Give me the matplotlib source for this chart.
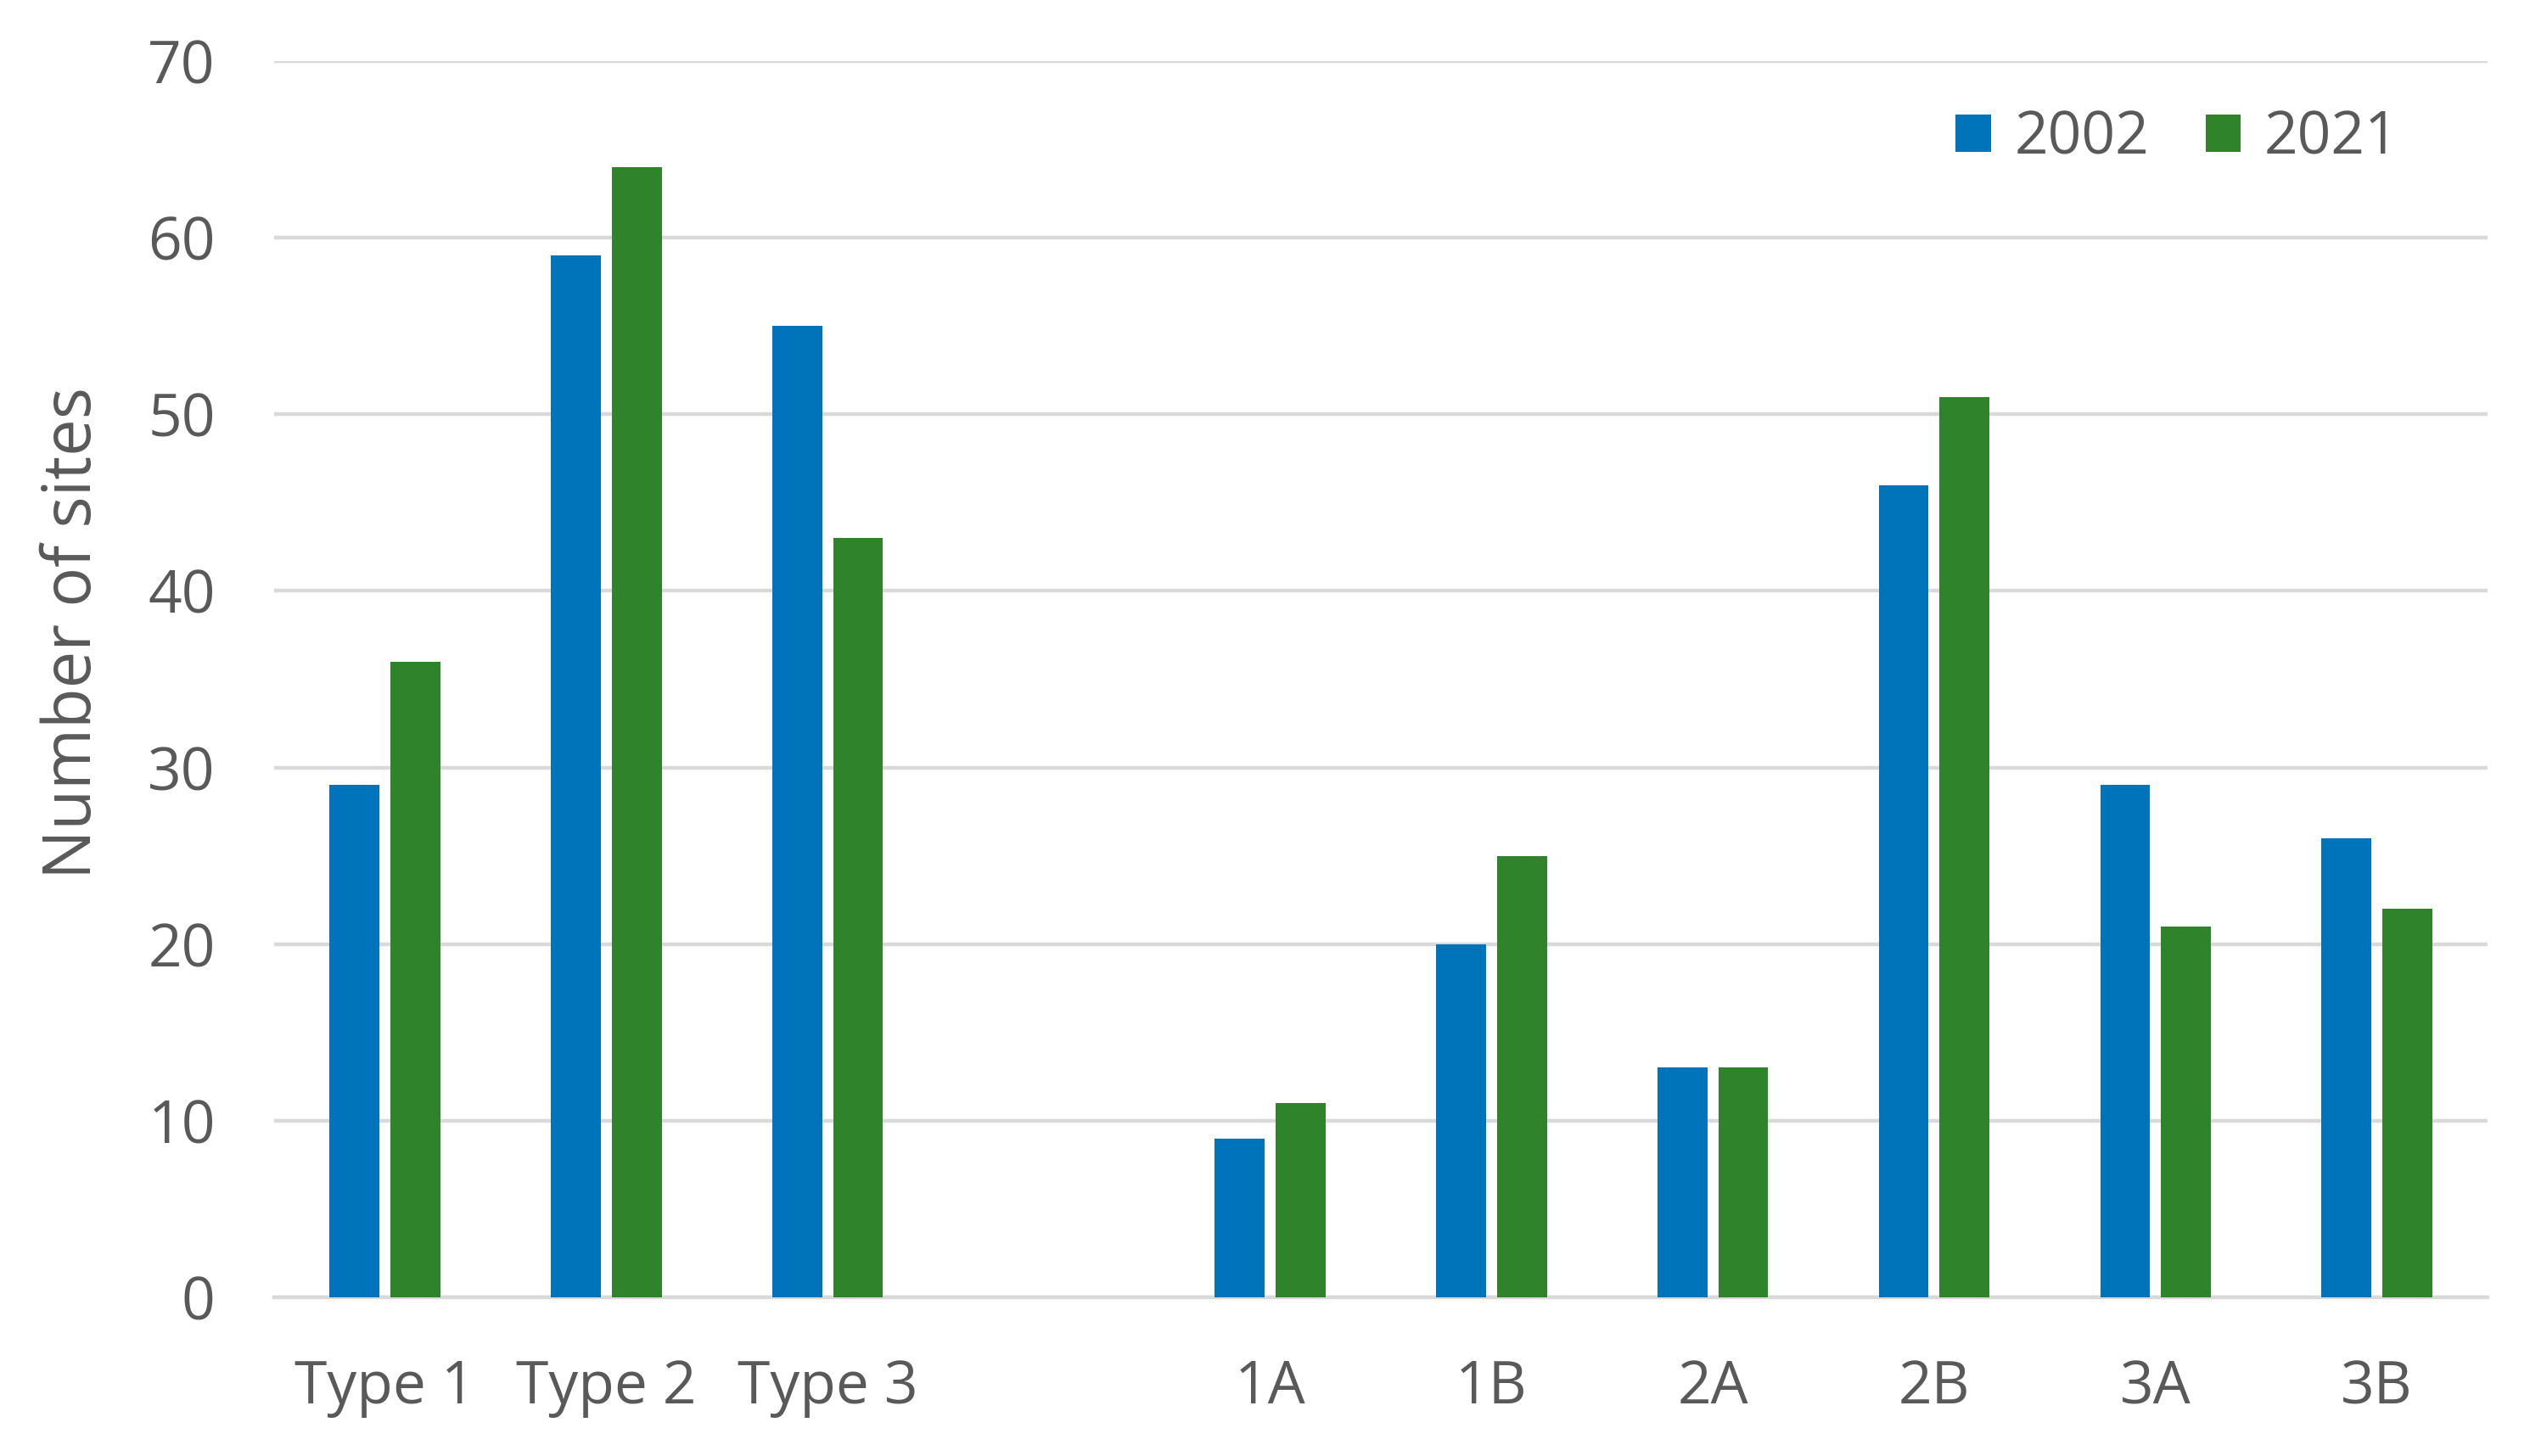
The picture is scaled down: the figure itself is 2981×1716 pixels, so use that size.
import matplotlib
matplotlib.use("Agg")
import matplotlib.pyplot as plt
import numpy as np

categories = ["Type 1", "Type 2", "Type 3", "", "1A", "1B", "2A", "2B", "3A", "3B"]
series_names = ["2002", "2021"]
values_2002 = [29, 59, 55, np.nan, 9, 20, 13, 46, 29, 26]
values_2021 = [36, 64, 43, np.nan, 11, 25, 13, 51, 21, 22]
y_ticks = [0, 10, 20, 30, 40, 50, 60, 70]

plt.rcParams['font.family'] = ['Open Sans', 'DejaVu Sans']
TXT = '#595959'
GRID = '#D9D9D9'
C_BLUE = '#0074BA'
C_GREEN = '#2F832A'

fig = plt.figure(figsize=(29.81, 17.16), dpi=100)
ax = fig.add_axes([0.1084, 0.109, 0.8748, 0.849])

x = np.arange(len(categories))
w = 0.225
off = 0.1375
ax.bar(x - off, values_2002, width=w, color=C_BLUE, label=series_names[0], zorder=3)
ax.bar(x + off, values_2021, width=w, color=C_GREEN, label=series_names[1], zorder=3)

ax.set_xlim(-0.5, len(categories) - 0.5)
ax.set_ylim(0, 70)
ax.set_yticks(y_ticks)
ax.set_xticks(x)
ax.set_xticklabels(categories)
ax.yaxis.grid(True, color=GRID, linewidth=3.2, zorder=0)
ax.set_axisbelow(True)
for s in ['top', 'right', 'left']:
    ax.spines[s].set_visible(False)
ax.spines['bottom'].set_color(GRID)
ax.spines['bottom'].set_linewidth(3.2)
ax.tick_params(axis='both', length=0, labelsize=50, colors=TXT)
ax.tick_params(axis='y', pad=50)
ax.tick_params(axis='x', pad=52)

fig.text(0.029, 0.565, "Number of sites", rotation=90, ha='center', va='center',
         fontsize=56, color=TXT)

leg = ax.legend(loc='upper right', bbox_to_anchor=(0.984, 1.004), ncol=2, frameon=False,
                fontsize=50, handlelength=0.6, handleheight=0.6, handletextpad=0.4,
                columnspacing=0.95, labelcolor=TXT)

fig.savefig("out.png", dpi=100)
